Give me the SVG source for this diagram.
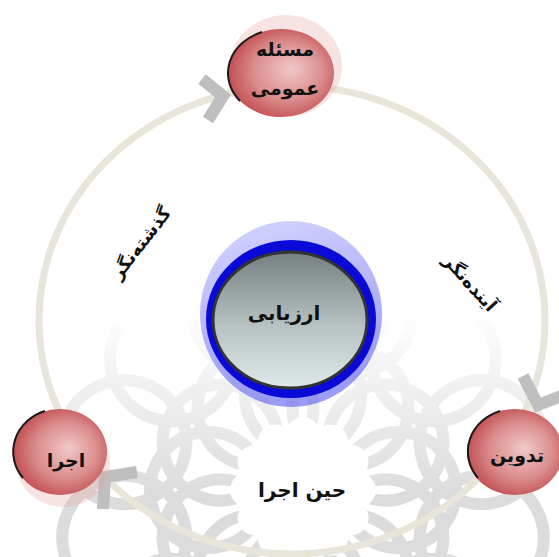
<svg xmlns="http://www.w3.org/2000/svg" width="559" height="557" viewBox="0 0 559 557">
<style>
.t{font-family:"DejaVu Sans",sans-serif;font-weight:bold;fill:#111;text-anchor:middle}
.chev{fill:none;stroke:#bfbfbf;stroke-width:12;stroke-linejoin:miter;stroke-miterlimit:10}
.halo{fill:#e9a3a3;opacity:0.3}
.sph{fill:url(#red)}
.edge{fill:none;stroke:#1a1a1a;stroke-width:2}
.band{fill:none;stroke:#c6c6c6;stroke-width:12}
</style>
<defs>
<radialGradient id="red" cx="0.55" cy="0.5" r="0.55" fx="0.6" fy="0.45">
<stop offset="0" stop-color="#f2c8c8"/>
<stop offset="0.6" stop-color="#db8c8c"/>
<stop offset="1" stop-color="#c24f52"/>
</radialGradient>
<linearGradient id="gray" x1="0" y1="0" x2="0" y2="1">
<stop offset="0" stop-color="#767f7f"/>
<stop offset="0.55" stop-color="#b9c2c2"/>
<stop offset="1" stop-color="#e0e9e9"/>
</linearGradient>
<linearGradient id="haloBlue" x1="0" y1="0" x2="0.3" y2="1">
<stop offset="0" stop-color="#b4b4ff"/>
<stop offset="1" stop-color="#4c4cf0"/>
</linearGradient>
<linearGradient id="fadeV" gradientUnits="userSpaceOnUse" x1="0" y1="320" x2="0" y2="490">
<stop offset="0" stop-color="#fff" stop-opacity="0.05"/>
<stop offset="1" stop-color="#fff" stop-opacity="1"/>
</linearGradient>
<mask id="wm">
<rect x="0" y="0" width="559" height="557" fill="url(#fadeV)"/>
</mask>
<circle id="c1" class="band" cx="0" cy="-95" r="58"/>
<circle id="c2" class="band" cx="0" cy="-185" r="62"/>
<circle id="p" cx="0" cy="-56" r="17"/>
</defs>
<rect width="559" height="557" fill="#fff"/>
<g id="watermark" mask="url(#wm)" opacity="0.6">
<g transform="translate(303,490)">
<use href="#c1"/><use href="#c1" transform="rotate(30)"/><use href="#c1" transform="rotate(60)"/><use href="#c1" transform="rotate(90)"/><use href="#c1" transform="rotate(120)"/><use href="#c1" transform="rotate(150)"/><use href="#c1" transform="rotate(180)"/><use href="#c1" transform="rotate(210)"/><use href="#c1" transform="rotate(240)"/><use href="#c1" transform="rotate(270)"/><use href="#c1" transform="rotate(300)"/><use href="#c1" transform="rotate(330)"/>
<g transform="rotate(15)"><use href="#c2"/><use href="#c2" transform="rotate(30)"/><use href="#c2" transform="rotate(60)"/><use href="#c2" transform="rotate(90)"/><use href="#c2" transform="rotate(120)"/><use href="#c2" transform="rotate(150)"/><use href="#c2" transform="rotate(180)"/><use href="#c2" transform="rotate(210)"/><use href="#c2" transform="rotate(240)"/><use href="#c2" transform="rotate(270)"/><use href="#c2" transform="rotate(300)"/><use href="#c2" transform="rotate(330)"/></g>
<circle r="48" fill="#fff"/>
<g fill="#fff"><use href="#p"/><use href="#p" transform="rotate(30)"/><use href="#p" transform="rotate(60)"/><use href="#p" transform="rotate(90)"/><use href="#p" transform="rotate(120)"/><use href="#p" transform="rotate(150)"/><use href="#p" transform="rotate(180)"/><use href="#p" transform="rotate(210)"/><use href="#p" transform="rotate(240)"/><use href="#p" transform="rotate(270)"/><use href="#p" transform="rotate(300)"/><use href="#p" transform="rotate(330)"/></g>
</g>
</g>
<g id="connectors">
<ellipse cx="292" cy="320" rx="253" ry="234" fill="none" stroke="#e8e5da" stroke-width="7"/>
<polyline class="chev" points="202,79 223,96 208,120"/>
<polyline class="chev" points="523,376 538,405 564,395"/>
<polyline class="chev" points="137,472 105,477 103,509"/>
</g>
<g id="node-center">
<ellipse cx="291" cy="314" rx="91" ry="93" fill="url(#haloBlue)" opacity="0.55"/>
<ellipse cx="291" cy="319" rx="85" ry="79" fill="#0a0ad6"/>
<ellipse cx="290" cy="320" rx="77" ry="68" fill="url(#gray)" stroke="#333" stroke-width="3"/>
<text class="t" x="284" y="320" font-size="20">ارزیابی</text>
</g>
<g id="node-top">
<ellipse class="halo" cx="286" cy="66" rx="56" ry="51"/>
<ellipse class="sph" cx="281" cy="73" rx="53" ry="44"/>
<path class="edge" d="M262,32 A53,44 0 0 0 240,101"/>
<text class="t" x="285" y="56" font-size="19">مسئله</text>
<text class="t" x="285" y="95" font-size="19">عمومی</text>
</g>
<g id="node-right">
<ellipse class="sph" cx="515" cy="452" rx="48" ry="43"/>
<path class="edge" d="M500,411 A48,43 0 0 0 478,478"/>
<text class="t" x="517" y="462" font-size="19">تدوین</text>
</g>
<g id="node-left">
<ellipse class="halo" cx="63" cy="462" rx="47" ry="45" opacity="0.2"/>
<ellipse class="sph" cx="60" cy="452" rx="47" ry="43"/>
<path class="edge" d="M45,411 A47,43 0 0 0 23,478"/>
<text class="t" x="66" y="467" font-size="19">اجرا</text>
</g>
<g id="labels">
<text class="t" font-size="18" transform="translate(141,243) rotate(-52)" y="6">گذشته‌نگر</text>
<text class="t" font-size="18" transform="translate(470,283) rotate(48)" y="6">آینده‌نگر</text>
<text class="t" x="302" y="497" font-size="20">حین اجرا</text>
</g>
</svg>
